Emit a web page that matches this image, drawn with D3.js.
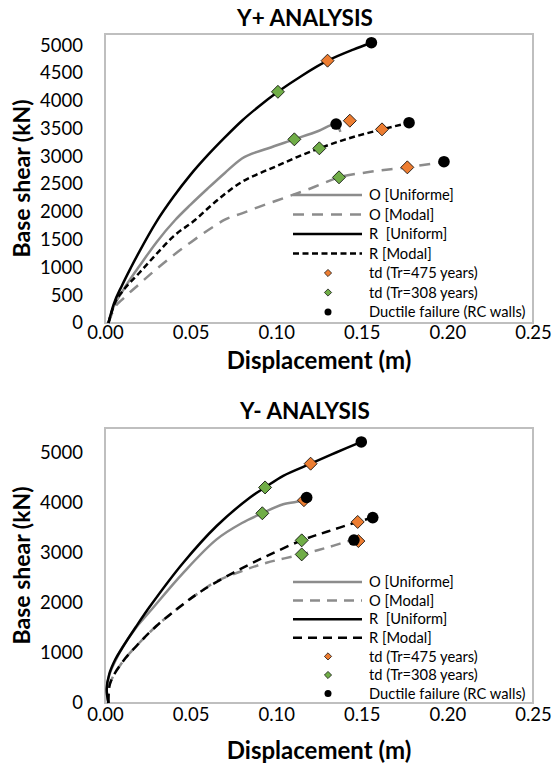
<!DOCTYPE html>
<html>
<head>
<meta charset="utf-8">
<script src="https://cdn.jsdelivr.net/npm/d3@7"></script>
<style>
  body { margin: 0; background: #fff; }
  text { font-family: Lato, 'Open Sans', sans-serif; fill: #000; }
</style>
</head>
<body>
<div id="chart"></div>
<script>
// tick labels
const xTicks = [0, 0.05, 0.10, 0.15, 0.20, 0.25];
const yTicksPos = [0, 500, 1000, 1500, 2000, 2500, 3000, 3500, 4000, 4500, 5000];
const yTicksNeg = [0, 1000, 2000, 3000, 4000, 5000];

const legendLabels = ['O [Uniforme]', 'O [Modal]', 'R  [Uniform]', 'R [Modal]',
  'td (Tr=475 years)', 'td (Tr=308 years)', 'Ductile failure (RC walls)'];

// Y+ analysis: [displacement (m), base shear (kN)]
const posOUniform = [[0.002, 0], [0.005, 290], [0.01, 560], [0.015, 800], [0.02, 1020], [0.03, 1450],
  [0.041, 1853], [0.05, 2130], [0.06, 2420], [0.07, 2700], [0.08, 2960], [0.095, 3140],
  [0.1106, 3305], [0.125, 3460], [0.135, 3580], [0.1375, 3440]];
const posOModal = [[0.002, 0], [0.006, 293], [0.01, 420], [0.02, 700], [0.03, 970], [0.04, 1220],
  [0.05, 1450], [0.0633, 1733], [0.07, 1860], [0.08, 1973], [0.09, 2090], [0.1, 2200],
  [0.12, 2420], [0.1367, 2621], [0.155, 2720], [0.1766, 2801], [0.198, 2902]];
const posRUniform = [[0.002, 0], [0.005, 330], [0.01, 680], [0.015, 990], [0.02, 1280], [0.03, 1820],
  [0.04, 2270], [0.05, 2670], [0.06, 3020], [0.07, 3340], [0.08, 3640], [0.09, 3900],
  [0.101, 4160], [0.115, 4450], [0.13, 4720], [0.145, 4920], [0.1556, 5043]];
const posRModal = [[0.002, 0], [0.006, 380], [0.01, 560], [0.02, 900], [0.03, 1240], [0.04, 1560],
  [0.0526, 1853], [0.06, 2060], [0.07, 2320], [0.08, 2540], [0.09, 2690], [0.1, 2820],
  [0.1125, 2990], [0.1252, 3143], [0.14, 3300], [0.1618, 3484], [0.1776, 3604]];
const posTd475 = [[0.143, 3640], [0.13, 4720], [0.1618, 3484], [0.1766, 2801]];
const posTd308 = [[0.1106, 3305], [0.101, 4160], [0.1252, 3143], [0.1367, 2621]];
const posFailure = [[0.135, 3580], [0.1556, 5043], [0.1776, 3604], [0.198, 2902]];

// Y- analysis
const negOUniform = [[0.002, 0], [0.001, 270], [0.0025, 560], [0.006, 840], [0.01, 1100], [0.018, 1500],
  [0.0263, 1834], [0.0457, 2604], [0.0652, 3273], [0.08, 3600], [0.0919, 3795], [0.1041, 3976],
  [0.1162, 4056], [0.1178, 4110]];
const negOModal = [[0.002, 0], [0.003, 395], [0.0097, 797], [0.02, 1200], [0.03, 1540],
  [0.0428, 1900], [0.0555, 2220], [0.0652, 2436], [0.08, 2640], [0.0944, 2805], [0.1149, 2972],
  [0.13, 3110], [0.1454, 3259], [0.148, 3239]];
const negRUniform = [[0.002, 0], [0.001, 280], [0.0025, 580], [0.006, 870], [0.01, 1100], [0.018, 1520],
  [0.0263, 1934], [0.0457, 2805], [0.0652, 3540], [0.0847, 4110], [0.0935, 4311], [0.1041, 4544],
  [0.1201, 4786], [0.135, 5010], [0.1497, 5221]];
const negRModal = [[0.002, 0], [0.003, 395], [0.0097, 797], [0.02, 1200], [0.03, 1540],
  [0.0428, 1900], [0.0555, 2220], [0.0749, 2604], [0.0944, 2938], [0.1149, 3253], [0.13, 3430],
  [0.1476, 3621], [0.1564, 3708]];
const negTd475 = [[0.1162, 4056], [0.1201, 4786], [0.1476, 3621], [0.148, 3239]];
const negTd308 = [[0.0919, 3795], [0.0935, 4311], [0.1149, 3253], [0.1149, 2972]];
const negFailure = [[0.1178, 4110], [0.1497, 5221], [0.1564, 3708], [0.1454, 3259]];

const W = 553, H = 769;
const GRAY = '#8c8c8c', ORANGE = '#ed7d31', GREEN = '#70ad47';

const svg = d3.select('#chart').append('svg')
  .attr('width', W)
  .attr('height', H);

function drawPanel(p) {
  const x = d3.scaleLinear().domain([0, 0.25]).range([105, 533]);
  const y = d3.scaleLinear().domain([0, p.yMax]).range([p.bottom, p.top]);
  const g = svg.append('g');

  // plot area border
  g.append('rect')
    .attr('x', 105).attr('y', p.top)
    .attr('width', 428).attr('height', p.bottom - p.top)
    .attr('fill', 'none').attr('stroke', '#bfbfbf').attr('stroke-width', 2);

  // axes
  const yAxis = g.append('g').attr('transform', 'translate(105,0)')
    .call(d3.axisLeft(y).tickValues(p.yTicks).tickSize(0).tickPadding(22).tickFormat(d3.format('d')));
  const xAxis = g.append('g').attr('transform', `translate(0,${p.bottom})`)
    .call(d3.axisBottom(x).tickValues(xTicks).tickSize(0).tickPadding(p.xPad).tickFormat(d3.format('.2f')));
  [yAxis, xAxis].forEach(a => {
    a.select('.domain').remove();
    a.selectAll('text').style('font-family', 'Lato').style('font-size', '18.5px').attr('fill', '#000');
  });

  // titles
  g.append('text').attr('x', 305).attr('y', p.titleY)
    .attr('text-anchor', 'middle').style('font-size', '22.5px').style('font-weight', 'bold')
    .text(p.title);
  g.append('text').attr('x', 319).attr('y', p.xLabelY)
    .attr('text-anchor', 'middle').style('font-size', '24px').style('font-weight', 'bold')
    .text('Displacement (m)');
  g.append('text')
    .attr('transform', `translate(30,${(p.top + p.bottom) / 2}) rotate(-90)`)
    .attr('text-anchor', 'middle').style('font-size', '23px').style('font-weight', 'bold')
    .text('Base shear (kN)');

  // curves
  const line = d3.line().x(d => x(d[0])).y(d => y(d[1])).curve(p.curve);
  const series = [
    { data: p.oUniform, color: GRAY, dash: null },
    { data: p.oModal, color: GRAY, dash: p.oDash },
    { data: p.rUniform, color: '#000', dash: null },
    { data: p.rModal, color: '#000', dash: p.rDash }
  ];
  g.selectAll('path.curve').data(series).enter().append('path')
    .attr('class', 'curve')
    .attr('d', d => line(d.data))
    .attr('fill', 'none')
    .attr('stroke', d => d.color)
    .attr('stroke-width', 2.5)
    .attr('stroke-dasharray', d => d.dash);

  const diamond = s => `M0,${-s}L${s},0L0,${s}L${-s},0Z`;
  g.selectAll('path.td475').data(p.td475).enter().append('path')
    .attr('class', 'td475')
    .attr('d', diamond(6.5))
    .attr('transform', d => `translate(${x(d[0])},${y(d[1])})`)
    .attr('fill', ORANGE).attr('stroke', '#000').attr('stroke-width', 0.8);
  g.selectAll('path.td308').data(p.td308).enter().append('path')
    .attr('class', 'td308')
    .attr('d', diamond(6.5))
    .attr('transform', d => `translate(${x(d[0])},${y(d[1])})`)
    .attr('fill', GREEN).attr('stroke', '#000').attr('stroke-width', 0.8);
  g.selectAll('circle.fail').data(p.failure).enter().append('circle')
    .attr('class', 'fail')
    .attr('cx', d => x(d[0])).attr('cy', d => y(d[1]))
    .attr('r', 5.8).attr('fill', '#000');

  // legend
  const leg = g.append('g');
  legendLabels.forEach((lab, i) => {
    const ly = p.legTop + i * p.legStep;
    const row = leg.append('g').attr('transform', `translate(0,${ly})`);
    if (i < 4) {
      const s = series[i];
      row.append('line').attr('x1', 293).attr('x2', 362)
        .attr('stroke', s.color).attr('stroke-width', 2.5)
        .attr('stroke-dasharray', s.dash);
    } else if (i < 6) {
      row.append('path').attr('d', diamond(3.6))
        .attr('transform', 'translate(328,0)')
        .attr('fill', i === 4 ? ORANGE : GREEN).attr('stroke', '#000').attr('stroke-width', 0.7);
    } else {
      row.append('circle').attr('cx', 328).attr('r', 3.5).attr('fill', '#000');
    }
    row.append('text').attr('x', 369).attr('dy', '0.35em')
      .style('font-size', '14.7px').style('white-space', 'pre')
      .text(lab);
  });
}

drawPanel({
  title: 'Y+ ANALYSIS', titleY: 26, top: 34, bottom: 323, yMax: 5200, yTicks: yTicksPos,
  xPad: 3, xLabelY: 369, curve: d3.curveMonotoneX,
  oUniform: posOUniform, oModal: posOModal, rUniform: posRUniform, rModal: posRModal,
  td475: posTd475, td308: posTd308, failure: posFailure,
  oDash: '11,8', rDash: '6,3.5', legTop: 195, legStep: 19.5
});

drawPanel({
  title: 'Y- ANALYSIS', titleY: 419, top: 428, bottom: 703, yMax: 5500, yTicks: yTicksNeg,
  xPad: 5, xLabelY: 759, curve: d3.curveCatmullRom.alpha(0.5),
  oUniform: negOUniform, oModal: negOModal, rUniform: negRUniform, rModal: negRModal,
  td475: negTd475, td308: negTd308, failure: negFailure,
  oDash: '10,7', rDash: '9,6', legTop: 582, legStep: 18.6
});
</script>
</body>
</html>
